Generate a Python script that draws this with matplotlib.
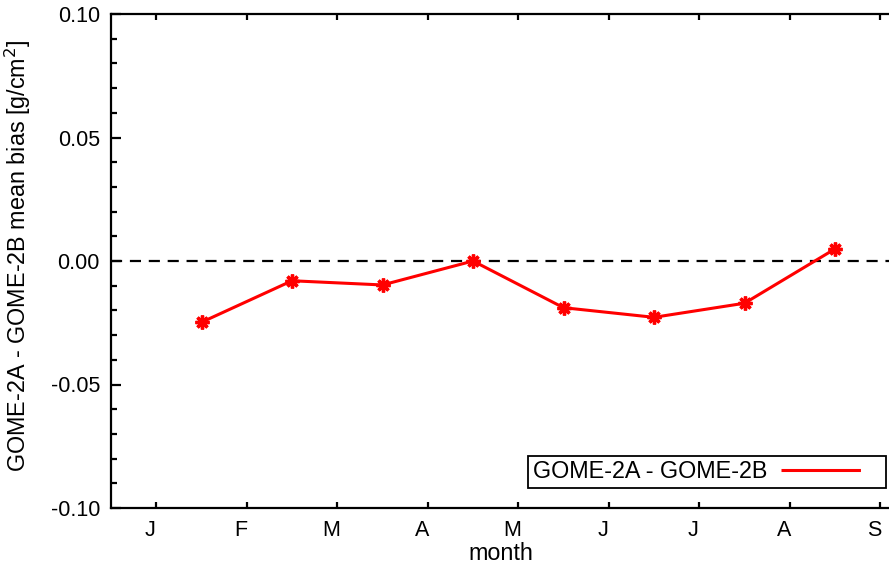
import numpy as np
import matplotlib
matplotlib.use('Agg')
import matplotlib.pyplot as plt
import matplotlib.transforms as mtrans
from matplotlib.lines import Line2D

plt.rcParams['font.family'] = ['Liberation Sans', 'DejaVu Sans']

# data: monthly mean bias GOME-2A minus GOME-2B
month_idx = [1, 2, 3, 4, 5, 6, 7, 8]
bias = [-0.0248, -0.0080, -0.0097, 0.0000, -0.0189, -0.0228, -0.0171, 0.0049]
tick_pos = [0.5, 1.5, 2.5, 3.5, 4.5, 5.5, 6.5, 7.5, 8.5]
tick_lab = ['J', 'F', 'M', 'A', 'M', 'J', 'J', 'A', 'S']
series_name = 'GOME-2A - GOME-2B'

W, H = 889, 565
fig = plt.figure(figsize=(W / 100, H / 100), dpi=100)
ax = fig.add_axes([111 / W, 57 / H, 779 / W, 494 / H])

ax.axhline(0, color='black', lw=1.6, ls=(0, (5, 3.5)), zorder=1)
ax.plot(month_idx, bias, color='red', lw=2.2, marker=(8, 2, 0),
        markersize=10, markeredgewidth=2.4, zorder=3)

ax.set_xlim(0, 779 / 90.5)
ax.set_ylim(-0.10, 0.10)
ax.set_xticks(tick_pos)
ax.set_xticklabels(tick_lab)
ax.set_yticks([-0.10, -0.05, 0.0, 0.05, 0.10])
ax.set_yticklabels(['-0.10', '-0.05', '0.00', '0.05', '0.10'])
ax.set_yticks(np.arange(-0.10, 0.1001, 0.01), minor=True)

for s in ax.spines.values():
    s.set_linewidth(1.6)
ax.spines['right'].set_visible(False)

ax.tick_params(axis='x', which='major', direction='in', length=4, width=1.6,
               top=True, bottom=True, labelsize=15.5, pad=9)
ax.tick_params(axis='y', which='major', direction='in', length=7, width=1.6,
               left=True, right=False, labelsize=15.5, pad=8)
ax.tick_params(axis='y', which='minor', direction='in', length=4, width=1.6,
               left=True, right=False)

off = mtrans.ScaledTranslation(-6 / 100, 0, fig.dpi_scale_trans)
for lab in ax.get_xticklabels():
    lab.set_transform(lab.get_transform() + off)

ax.set_xlabel('month', fontsize=16.8, labelpad=0)
ax.set_ylabel('GOME-2A - GOME-2B mean bias [g/cm$^2$]', fontsize=16.8)
ax.yaxis.set_label_coords((33 - 111) / 779, 0.51)

# legend line: 80 px drawn, then ~21 px blank before the frame
handle = Line2D([], [], color='red', lw=2.2, ls=(0, (26, 60)))
leg = ax.legend([handle], [series_name], loc='lower right',
                bbox_to_anchor=(886 / W, (565 - 488) / H),
                bbox_transform=fig.transFigure, borderaxespad=0,
                markerfirst=False, handlelength=4.3, handletextpad=0.6,
                fancybox=False, framealpha=1, edgecolor='black',
                fontsize=16.8, borderpad=0.2)
leg.get_frame().set_linewidth(1.3)

fig.savefig('out.png', dpi=100)
